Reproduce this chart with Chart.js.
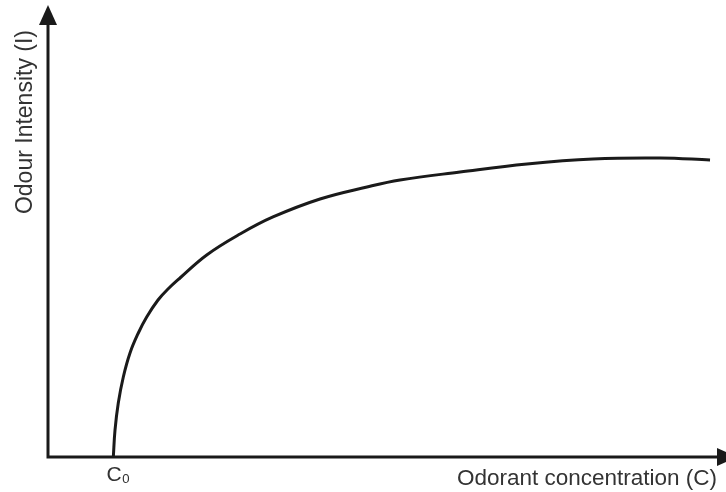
<!doctype html>
<html>
    <head>
        <meta charset="UTF-8" />
        <script src="https://cdn.jsdelivr.net/npm/chart.js"></script>
        <style>
            body { margin: 0; background: #fff; }
            #wrap { width: 726px; height: 492px; }
        </style>
    </head>
    <body>
        <div id="wrap"><canvas id="odourChart"></canvas></div>
        <script>
            // concentration (arbitrary units, 0-100) and intensity (0-100)
            const concentration = [9.9, 10.15, 10.64, 11.39, 12.39, 13.63, 14.88, 16.57, 18.06, 19.85, 23.84, 28.81, 33.73, 40.75, 47.76, 52.69, 61.64, 71.64, 81.49, 91.49, 98.96];
            const intensity = [0, 6.3, 12.65, 18.74, 24.36, 29.04, 32.79, 36.77, 39.34, 41.92, 47.31, 52.22, 56.21, 60.42, 63.23, 64.87, 66.74, 68.62, 69.79, 70.02, 69.56];
            const thresholdValue = 9.9;
            const thresholdLabel = "C₀";
            const xTitle = "Odorant concentration (C)";
            const yTitle = "Odour Intensity (I)";

            const font = "'Liberation Sans', Arial, sans-serif";
            const ink = "#1a1a1a";

            // axis lines with arrow heads
            const arrowAxes = {
                id: "arrowAxes",
                afterDraw(chart) {
                    const { ctx } = chart;
                    const x0 = chart.scales.x.left + 1;
                    const y0 = chart.scales.y.bottom;
                    const xEnd = chart.scales.x.right;
                    ctx.save();
                    ctx.strokeStyle = ink;
                    ctx.fillStyle = ink;
                    ctx.lineWidth = 3;
                    ctx.lineCap = "square";
                    ctx.beginPath();
                    ctx.moveTo(x0, 24);
                    ctx.lineTo(x0, y0);
                    ctx.lineTo(xEnd + 2, y0);
                    ctx.stroke();
                    // y arrow
                    ctx.beginPath();
                    ctx.moveTo(x0, 5);
                    ctx.lineTo(x0 - 9, 25);
                    ctx.lineTo(x0 + 9, 25);
                    ctx.closePath();
                    ctx.fill();
                    // x arrow
                    ctx.beginPath();
                    ctx.moveTo(xEnd + 20, y0);
                    ctx.lineTo(xEnd, y0 - 9);
                    ctx.lineTo(xEnd, y0 + 9);
                    ctx.closePath();
                    ctx.fill();
                    ctx.restore();
                },
            };

            new Chart(document.getElementById("odourChart"), {
                type: "line",
                data: {
                    datasets: [
                        {
                            data: concentration.map((c, i) => ({ x: c, y: intensity[i] })),
                            borderColor: ink,
                            borderWidth: 3,
                            pointRadius: 0,
                            tension: 0.4,
                            fill: false,
                            clip: false,
                        },
                    ],
                },
                options: {
                    responsive: true,
                    maintainAspectRatio: false,
                    animation: false,
                    layout: { padding: { top: 30, right: 9, left: 0, bottom: 0 } },
                    plugins: { legend: { display: false }, tooltip: { enabled: false } },
                    scales: {
                        x: {
                            type: "linear",
                            min: 0,
                            max: 100,
                            border: { display: false },
                            grid: { display: false, drawTicks: false },
                            afterBuildTicks: (scale) => {
                                scale.ticks = [{ value: thresholdValue }];
                            },
                            afterFit: (scale) => {
                                scale.height = 35;
                            },
                            ticks: {
                                autoSkip: false,
                                maxRotation: 0,
                                padding: 6,
                                labelOffset: 5,
                                color: "#333",
                                font: { family: font, size: 21 },
                                callback: () => thresholdLabel,
                            },
                            title: {
                                display: true,
                                text: xTitle,
                                align: "end",
                                color: "#333",
                                font: { family: font, size: 22.5 },
                                padding: { top: 0, bottom: 0 },
                            },
                        },
                        y: {
                            type: "linear",
                            min: 0,
                            max: 100,
                            border: { display: false },
                            grid: { display: false, drawTicks: false },
                            ticks: { display: false },
                            afterFit: (scale) => {
                                scale.width = 47;
                            },
                            title: {
                                display: true,
                                text: yTitle,
                                align: "end",
                                color: "#333",
                                font: { family: font, size: 23 },
                                padding: { top: 12, bottom: 0 },
                            },
                        },
                    },
                },
                plugins: [arrowAxes],
            });
        </script>
    </body>
</html>
